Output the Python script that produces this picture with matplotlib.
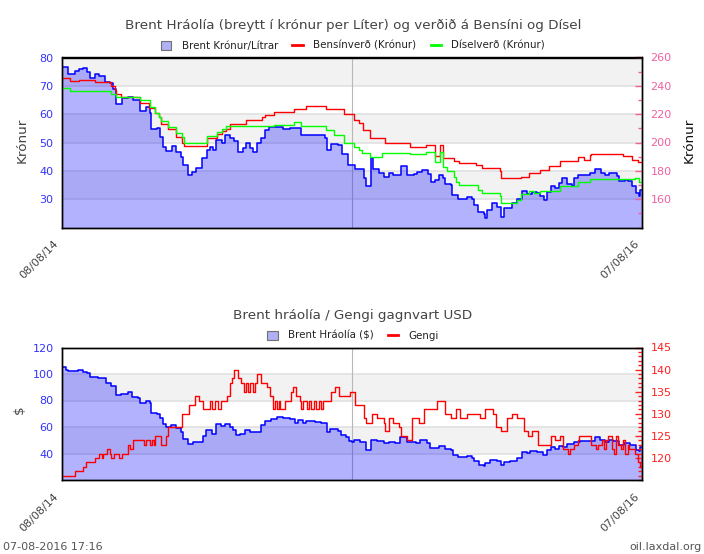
import matplotlib
matplotlib.use("Agg")
import matplotlib.pyplot as plt
from matplotlib.patches import Patch
from matplotlib.lines import Line2D
from matplotlib.ticker import MultipleLocator

W, H = 704, 554
plt.rcParams['font.family'] = 'DejaVu Sans'

brent_kr_days = [0,3,8,12,16,22,27,31,35,41,47,54,60,64,68,75,83,89,98,106,111,112,119,123,127,131,138,144,150,152,159,163,169,175,176,182,186,190,194,201,205,211,217,221,228,232,236,240,245,251,255,261,270,278,287,293,301,312,320,331,334,339,347,352,360,
 369,375,380,383,388,389,392,399,405,411,417,424,427,430,434,443,447,453,461,464,470,475,480,482,489,491,499,510,516,518,524,531,532,535,541,547,552,556,562,566,573,579,585,592,598,602,607,610,615,621,625,629,636,642,644,650,659,665,671,678,684,688,694,698,701,709,713,717,722,726,728,730]
brent_kr = [76.5,76.6,74.2,74.2,75.4,75.8,76.3,75,72.7,74.2,73.5,71.5,71,68.8,63.6,65.6,66.2,65,61,62.7,60.3,54.6,55,52,48.5,47,48.9,46.7,45,42,38.5,39.7,41,41,44.4,47.3,48.5,47.5,51,50,52.7,51.5,50.5,46.7,48,49.7,48,46.7,49.7,51.5,54.4,55.4,55.6,54.6,55.2,55,52.6,52.6,52.6,51.5,47.3,49.5,49.2,46,42,
 40.8,40.8,37.3,34.6,34.6,44.4,40.8,39.3,38,39.3,38.5,38.5,41.8,41.7,38.5,39,39.6,40.2,39,36.1,36.7,38.5,37.3,35.5,34.9,31.4,30.2,30.6,30.2,27.9,25.5,24.9,23.2,26.2,28.5,27.3,23.8,26.8,26.8,28.5,30.2,33,31.9,32.7,32.2,31,29.8,32.7,34.6,34,35.7,37.5,35.2,34.6,37.5,38.7,38.7,39.3,40.5,39.3,38.7,39.3,39.3,38.1,36.3,36.9,36.3,34.6,32.2,31,33.4,33.4]

bensin_days = [0,10.5,21.4,41.5,61.7,67,68,74,98,110,117,122,125,133,144,151,154,182.5,195,201,207,212,231,252,255,267,292,307,332,355,
 367,374,378.5,388,406,438,458,470,476,480,493,500,521,528,551,552.5,578,588,601,613,627,649,656.5,665,666,706,718,725,730]
bensin = [245.4,243.5,244.2,242.8,239.7,237.1,234,232.4,227.7,224.2,220.6,218.3,213,209.5,203.9,199.4,197.5,203.2,205.8,208.1,209.5,213,215.7,218.3,219.4,221.3,223.4,225.6,223.4,219.9,
 215.7,213.5,208.6,203.2,199.4,196.8,198.2,190.7,198,188.8,186.7,185.2,184,181.7,179.8,174.6,176,178.2,180.3,183.3,186.7,189.5,187.4,191.1,191.6,190.4,187.4,186,186]

disel_days = [0,10.5,61.7,68,98.6,111,117,122,125,134,144,151,154,182.5,195,201,207,267,292,301,332,342,355,
 368,374,378,388,403,438,458,470,476,480,484,494,496,500,524,528,551,552.5,573,578,588,594,601,627,649,665,721,726,730]
disel = [238.3,236.2,234,231.9,229.8,224.9,220.6,218.3,215,211.2,206.5,203.6,199.4,204.3,207.6,209.5,211.4,212.1,214.2,211.4,208.8,205,199.4,
 196.6,194.7,192.3,189.5,192.3,191.6,193,185.9,193,182.9,179.8,175.8,172.3,169.7,166.8,164.7,162.4,157.6,159.3,163.3,165.9,164.7,166.1,169.2,172,174.2,174.6,172.3,172.3]

brent_usd_days = [0,5.5,7.6,20,26,31.5,35,41,45,52,56,62,67.5,68.4,74.7,83,88.5,96,98,106,111,112.4,119.6,123,127,131,137.6,144,150,152,158.6,165,174.5,177.5,181.6,186.7,189,193.4,194,200.5,204.7,211,215,219.4,223.6,230,236,244.6,251,255,263.4,270,278,286.5,293,297,303,307.5,318,326,333,337,347,351.5,358,361,
 365,367,375.5,382,388,389,396.5,405,411,419.5,426,430,434,445,451,459,463.6,470,475,482.5,489,492,499,510,516,518,524.4,531,533,539,547.5,552,556,564,573,579,585,589,598,606,610,615,621,625,631,636,644,652,663,671,677.5,684,688,694,701,707,715,722,726,728,730]
brent_usd = [105,103,102.2,103,101.7,100.5,97.4,97.9,96.7,97.2,93,91,90,84,85,86.4,83,81.7,78,80,78,70.4,70,66.6,62,60.3,61.5,59,56.5,51,47.3,48.6,49,53.5,58,58,55,58,62.3,60.8,62.3,60.3,58,54,54.5,58,56,56.6,61.5,64.8,65.8,67.3,66.5,65.8,62.8,65.3,62.8,64.6,63.6,62.8,56.6,58.8,56.8,54,52.8,49.8,
 48.6,50.3,49,43,43,50.3,49.8,47.8,48.8,48,52.8,52.8,49,47.8,50,47.8,44,44.5,46,43.3,42.8,38.6,37.3,37.8,36.5,34,31,30.3,32.7,34.8,34.5,31,33.5,34,36.5,40.8,40.3,41.8,40.8,39,42.8,44.8,43.6,45.8,44.6,47.3,48.6,49.6,49.6,52.3,50.3,49,50.3,49.8,46.6,47.8,46.6,42.8,42,44.6,44.6]

gengi_days = [0,2,16,26,30,41,47,50,52,57,
 60,62,65,72,75,83,86,89,95,100,
 103,106,111,113,116,117,125,131,134,146,
 151,160,168,172,178,186,189,193,196,200,
 203,208,211,214,217,221,225,229,232,234,
 237,240,243,245,250,255,258,262,265,268,
 270,273,275,278,281,284,288,291,295,299,
 301,303,308,311,314,317,320,323,326,329,
 332,335,339,343,349,354,360,363,365,369,
 380,383,390,396,405,406,411,417,424,427,
 434,440,449,455,466,472,482,489,496,501,
 510,526,533,543,546,552,560,566,573,581,
 587,592,599,612,615,621,627,630,637,640,
 644,650,651,665,666,671,672,674,678,680,
 682,685,687,692,695,697,700,704,706,708,
 712,714,718,721,725,727,730]
gengi = [116,116,117,118,119,120,121,120,121,122,
 121,120,121,120,121,123,122,124,124,124,
 123,124,123,124,123,125,123,125,127,127,
 130,132,134,133,131,133,131,133,131,133,
 133,134,137,138,140,138,137,135,137,135,
 137,135,137,139,137,137,136,134,131,133,
 131,133,131,131,133,133,135,136,134,133,
 131,133,131,133,131,133,131,133,131,133,
 133,133,135,136,134,134,134,135,135,132,
 129,128,130,129,128,126,129,128,127,125,
 124,129,128,131,131,133,130,129,131,129,
 130,129,131,130,127,126,129,130,129,126,
 125,126,123,123,125,124,125,122,121,122,
 123,124,125,125,123,123,122,123,123,124,
 122,124,125,122,121,125,123,122,124,121,
 123,122,122,121,119,118,120]

tick_top_l = [30, 40, 50, 60, 70, 80]
tick_top_r = [160, 180, 200, 220, 240, 260]
tick_bot_l = [40, 60, 80, 100, 120]
tick_bot_r = [120, 125, 130, 135, 140, 145]

BLUE = '#0000ff'
FILL = (0, 0, 1, 0.30)
TEXT = '#444444'

def rect(l, t, r, b):
    return [l / W, 1 - b / H, (r - l) / W, (b - t) / H]

def fx(x): return x / W
def fy(y): return 1 - y / H

fig = plt.figure(figsize=(W / 100, H / 100), dpi=100, facecolor='white')

def panel(pos, ylim, ylim2, ticks, ticks2, bands, rcolor, minor2):
    ax = fig.add_axes(rect(*pos))
    ax.set_xlim(0, 730)
    ax.set_ylim(*ylim)
    ax.set_xticks([])
    ax.set_yticks(ticks)
    ax.tick_params(axis='y', length=0, labelcolor='#3333ff', labelsize=8, pad=6)
    for a, b in bands:
        ax.axhspan(a, b, color='#f2f2f2', lw=0, zorder=0)
    ax.yaxis.grid(True, color='#e0e0e0', lw=1.2, zorder=0.5)
    ax.set_axisbelow(True)
    ax.axvline(365, color='#b8b8b8', lw=0.8, zorder=0.6)
    ax2 = ax.twinx()
    ax2.set_ylim(*ylim2)
    ax2.set_xlim(0, 730)
    ax2.set_yticks(ticks2)
    ax2.yaxis.set_minor_locator(MultipleLocator(minor2))
    ax2.tick_params(axis='y', which='major', direction='in', length=5, width=1, color=rcolor, labelcolor=rcolor, labelsize=8, pad=6)
    ax2.tick_params(axis='y', which='minor', direction='in', length=3, width=1, color=rcolor)
    for a in (ax, ax2):
        for s in a.spines.values():
            s.set_linewidth(1.0)
            s.set_color('black')
    return ax, ax2

# top
ax, ax2 = panel((62, 57.5, 642, 227.5), (20, 80), (140, 260), tick_top_l, tick_top_r,
                [(70, 80), (50, 60), (30, 40)], '#f0609f', 10)
ax.fill_between(brent_kr_days, brent_kr, 20, step='post', color=FILL, lw=0, zorder=1)
ax.step(brent_kr_days, brent_kr, where='post', color=BLUE, lw=1.1, zorder=2)
ax2.step(bensin_days, bensin, where='post', color='#ff0000', lw=1.0)
ax2.step(disel_days, disel, where='post', color='#00ff00', lw=1.0)
fig.text(fx(353), fy(25), 'Brent Hráolía (breytt í krónur per Líter) og verðið á Bensíni og Dísel',
         ha='center', va='center', fontsize=9.7, color=TEXT)
fig.text(fx(22), fy(140), 'Krónur', rotation=90, ha='center', va='center', fontsize=9.7, color=TEXT)
fig.text(fx(689), fy(140), 'Krónur', rotation=90, ha='center', va='center', fontsize=9.7, color='#111111')

h_patch = Patch(facecolor='#b0b0f4', edgecolor='#707070', lw=0.8)
fig.legend([h_patch, Line2D([], [], color='#ff0000', lw=2), Line2D([], [], color='#00ff00', lw=2)],
           ['Brent Krónur/Lítrar', 'Bensínverð (Krónur)', 'Díselverð (Krónur)'],
           loc='center', bbox_to_anchor=(fx(353), fy(46)), ncol=3, frameon=False, fontsize=7.4,
           handlelength=1.0, handleheight=0.9, handletextpad=1.0, columnspacing=1.4, labelcolor='#222222')

# bottom
ax3, ax4 = panel((62, 347.5, 642, 480), (20, 120), (115, 145), tick_bot_l, tick_bot_r,
                 [(80, 100), (40, 60)], '#ff2020', 1)
ax3.fill_between(brent_usd_days, brent_usd, 20, step='post', color=FILL, lw=0, zorder=1)
ax3.step(brent_usd_days, brent_usd, where='post', color=BLUE, lw=1.1, zorder=2)
ax4.step(gengi_days, gengi, where='post', color='#ff0000', lw=1.0)
fig.text(fx(353), fy(315), 'Brent hráolía / Gengi gagnvart USD', ha='center', va='center', fontsize=9.7, color=TEXT)
fig.text(fx(19), fy(410), '$', rotation=90, ha='center', va='center', fontsize=9.7, color=TEXT)
fig.legend([h_patch, Line2D([], [], color='#ff0000', lw=2)], ['Brent Hráolía ($)', 'Gengi'],
           loc='center', bbox_to_anchor=(fx(353), fy(336)), ncol=2, frameon=False, fontsize=7.4,
           handlelength=1.0, handleheight=0.9, handletextpad=1.0, columnspacing=1.4, labelcolor='#222222')

# rotated date labels
for y in (238, 491):
    fig.text(fx(53), fy(y), '08/08/14', rotation=45, rotation_mode='anchor', ha='right', va='top', fontsize=8, color=TEXT)
    fig.text(fx(634), fy(y), '07/08/16', rotation=45, rotation_mode='anchor', ha='right', va='top', fontsize=8, color=TEXT)

fig.text(fx(3), fy(547), '07-08-2016 17:16', ha='left', va='center', fontsize=8, color='#555555')
fig.text(fx(702), fy(547), 'oil.laxdal.org', ha='right', va='center', fontsize=8, color='#555555')

fig.savefig('out.png', dpi=100)
